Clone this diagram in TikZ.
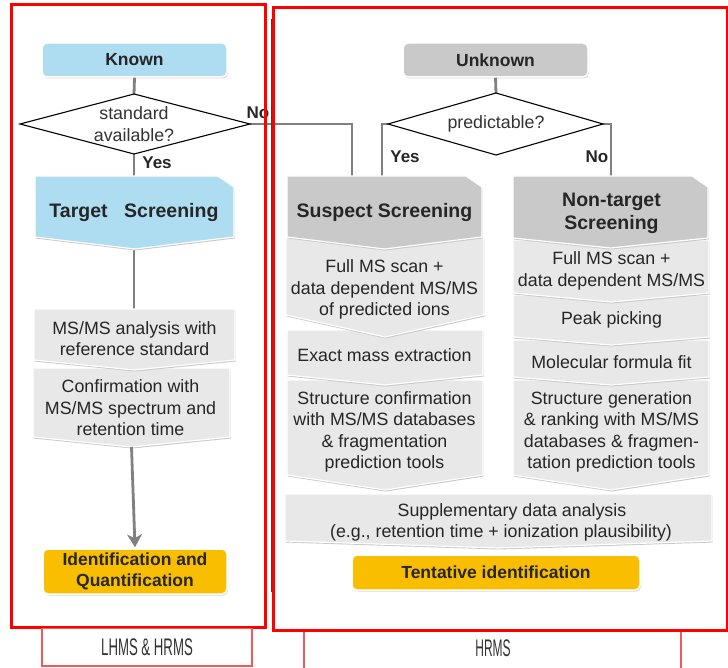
\documentclass[tikz,border=0pt]{standalone}
\usepackage{fontspec}
\setmainfont{Liberation Sans}
\usetikzlibrary{arrows.meta,shadows}
\definecolor{lblue}{RGB}{174,221,242}
\definecolor{hgray}{RGB}{201,201,201}
\definecolor{sgray}{RGB}{232,232,232}
\definecolor{gold}{RGB}{250,190,0}
\definecolor{txt}{RGB}{38,38,38}
\definecolor{conncol}{RGB}{128,128,128}
\definecolor{framecol}{RGB}{255,0,0}
\definecolor{palecol}{RGB}{240,90,90}
% name, x1, x2, ytop, yside, ytip, fill
\newcommand\chevbox[7]{%
  \fill[black!22] ({#2+0.6},{#4+1.5}) -- ({#3+0.6},{#4+1.5}) -- ({#3+0.6},{#5+1.5}) -- ({(#2+#3)/2+0.6},{#6+1.5}) -- ({#2+0.6},{#5+1.5}) -- cycle;
  \filldraw[fill=#7, draw=white, line width=1.2pt] (#2,#4) -- (#3,#4) -- (#3,#5) -- ({(#2+#3)/2},#6) -- (#2,#5) -- cycle;
  \coordinate (#1-top) at ({(#2+#3)/2},#4);
  \coordinate (#1-tip) at ({(#2+#3)/2},#6);
}
\newcommand\headbox[7]{%
  \fill[black!22] ({#2+0.6},{#4+1.5}) -- ({#3-16+0.6},{#4+1.5}) -- ({#3+0.6},{#4+12.5}) -- ({#3+0.6},{#5+1.5}) -- ({(#2+#3)/2+0.6},{#6+1.5}) -- ({#2+0.6},{#5+1.5}) -- cycle;
  \filldraw[fill=#7, draw=white, line width=1.2pt] (#2,#4) -- ({#3-16},#4) -- (#3,{#4+11}) -- (#3,#5) -- ({(#2+#3)/2},#6) -- (#2,#5) -- cycle;
  \coordinate (#1-top) at ({(#2+#3)/2},#4);
  \coordinate (#1-tip) at ({(#2+#3)/2},#6);
}
\tikzset{
  bodytxt/.style={text=txt, align=center, inner sep=0pt, font=\fontsize{17.8}{21.5}\selectfont},
  headtxt/.style={text=txt, align=center, inner sep=0pt, font=\bfseries\fontsize{19.5}{23}\selectfont},
  yesno/.style={text=txt, inner sep=0pt, font=\bfseries\fontsize{17}{20}\selectfont},
  roundbox/.style={rounded corners=5pt, draw=white, line width=1.5pt,
    drop shadow={opacity=0.3, shadow xshift=1pt, shadow yshift=-1.5pt},
    inner sep=0pt, text=txt, align=center, font=\bfseries\fontsize{17.5}{21}\selectfont},
  conn/.style={draw=conncol, line width=2.8pt},
  decision/.style={draw=black, fill=white, line width=1.1pt, line join=miter},
  lbl/.style={text=black!80, inner sep=0pt, font=\fontsize{24}{26}\selectfont},
}
\begin{document}
\begin{tikzpicture}[x=1pt,y=-1pt]
\useasboundingbox (0,0) rectangle (728,668);
\fill[white] (0,0) rectangle (728,668);

% ---------- coordinates of decisions ----------
\coordinate (d1top) at (134,94);
\coordinate (d1bot) at (134,154);
\coordinate (d1left) at (20,124);
\coordinate (d1right) at (250,124);
\coordinate (d2top) at (496,93);
\coordinate (d2bot) at (496,155);
\coordinate (d2left) at (388,124);
\coordinate (d2right) at (603,124);
\coordinate (noin) at (352,180);
\coordinate (yesin) at (382,180);
\coordinate (noin2) at (611,180);

% ---------- start boxes ----------
\node[roundbox, fill=lblue, minimum width=185pt, minimum height=34pt] (known) at (134.5,60) {Known};
\node[roundbox, fill=hgray, minimum width=185pt, minimum height=34pt] (unknown) at (495.5,60) {Unknown};

% ---------- connectors ----------
\draw[conn] (known.south) -- (d1top);
\draw[conn] (unknown.south) -- (d2top);
\draw[conn] (d1right) -| (noin);
\draw[conn] (d2left) -| (yesin);
\draw[conn] (d2right) -| (noin2);
\coordinate (tin) at (134,180);
\draw[conn] (d1bot) -- (tin);
\coordinate (tmid1) at (134,245);
\coordinate (tmid2) at (134,312);
\draw[conn] (tmid1) -- (tmid2);

% ---------- left column ----------
\chevbox{conf}{33}{230}{368}{437}{447}{sgray}
\chevbox{msms}{34}{235}{309}{360}{370}{sgray}
\headbox{targ}{35}{234}{176}{237}{249}{lblue}

% ---------- suspect column ----------
\chevbox{supp}{285}{712}{494}{541}{548}{sgray}
\chevbox{sstruct}{287}{483}{380}{475}{490}{sgray}
\chevbox{sexact}{287}{483}{330}{375}{385}{sgray}
\chevbox{sfull}{286}{484}{238}{315}{337}{sgray}
\headbox{susp}{287}{482}{176}{237}{249}{hgray}

% ---------- non-target column ----------
\chevbox{nstruct}{513}{709}{380}{475}{490}{sgray}
\chevbox{nmol}{513}{709}{340}{377}{385}{sgray}
\chevbox{npeak}{513}{709}{295}{337}{345}{sgray}
\chevbox{nfull}{513}{709}{240}{293}{302}{sgray}
\headbox{nont}{513}{708}{176}{238}{248}{hgray}

% ---------- final boxes ----------
\node[roundbox, fill=gold, minimum width=184pt, minimum height=45pt] (ident) at (135,571.5) {Identification and\\Quantification};
\node[roundbox, fill=gold, minimum width=288pt, minimum height=35pt] (tent) at (496,572.5) {Tentative identification};

\draw[conn, -{Stealth[length=13pt,width=15pt,inset=4pt]}] (conf-tip) -- ([yshift=1pt]ident.north);

% ---------- decisions ----------
\draw[decision] (d1left) -- (d1top) -- (d1right) -- (d1bot) -- cycle;
\draw[decision] (d2left) -- (d2top) -- (d2right) -- (d2bot) -- cycle;
\node[bodytxt, font=\fontsize{17.8}{22}\selectfont, text=black!80] (q1) at (134,124) {standard\\available?};
\node[bodytxt, text=black!80] (q2) at (496,124) {predictable?};

\node[yesno] (no1) at (258,113) {No};
\node[yesno] (yes1) at (157,163) {Yes};
\node[yesno] (yes2) at (405,157) {Yes};
\node[yesno] (no2) at (597,157) {No};

% ---------- texts ----------
\node[headtxt] (ttarg) at (134,213) {Target\hspace{0.85em}Screening};
\node[bodytxt] (tmsms) at (134.5,338.5) {MS/MS analysis with\\reference standard};
\node[bodytxt] (tconf) at (130.5,408) {Confirmation with\\MS/MS spectrum and\\retention time};

\node[headtxt] (tsusp) at (384.5,213) {Suspect Screening};
\node[bodytxt] (tsfull) at (384.5,289.5) {Full MS scan +\\data dependent MS/MS\\of predicted ions};
\node[bodytxt] (tsexact) at (384.5,355) {Exact mass extraction};
\node[bodytxt] (tsstruct) at (384.5,432) {Structure confirmation\\with MS/MS databases\\\& fragmentation\\prediction tools};

\node[headtxt] (tnont) at (611.5,213.5) {Non-target\\Screening};
\node[bodytxt] (tnfull) at (611.5,271) {Full MS scan +\\data dependent MS/MS};
\node[bodytxt] (tnpeak) at (611.5,320) {Peak picking};
\node[bodytxt] (tnmol) at (611.5,362) {Molecular formula fit};
\node[bodytxt] (tnstruct) at (611.5,432) {Structure generation\\\& ranking with MS/MS\\databases \& fragmen-\\tation prediction tools};

\node[bodytxt] (tsupp) at (501,522.5) {\hspace{22pt}Supplementary data analysis\\(e.g., retention time + ionization plausibility)};

% ---------- frames ----------
\draw[black!75, line width=0.8pt] (271.3,19) -- (271.3,592);
\draw[framecol, line width=3pt] (11,5) rectangle (265,627);
\draw[framecol, line width=3pt] (273,8) rectangle (727,630);
\draw[palecol, line width=1.2pt] (42,628.5) rectangle (252,666);
\draw[palecol, line width=1.2pt] (304,631.5) -- (304,668);
\draw[palecol, line width=1.2pt] (681,631.5) -- (681,668);
\node[lbl] (lab1) at (147,647) {\scalebox{0.55}[1]{LHMS \& HRMS}};
\node[lbl] (lab2) at (493,648) {\scalebox{0.5}[1]{HRMS}};
\end{tikzpicture}
\end{document}
